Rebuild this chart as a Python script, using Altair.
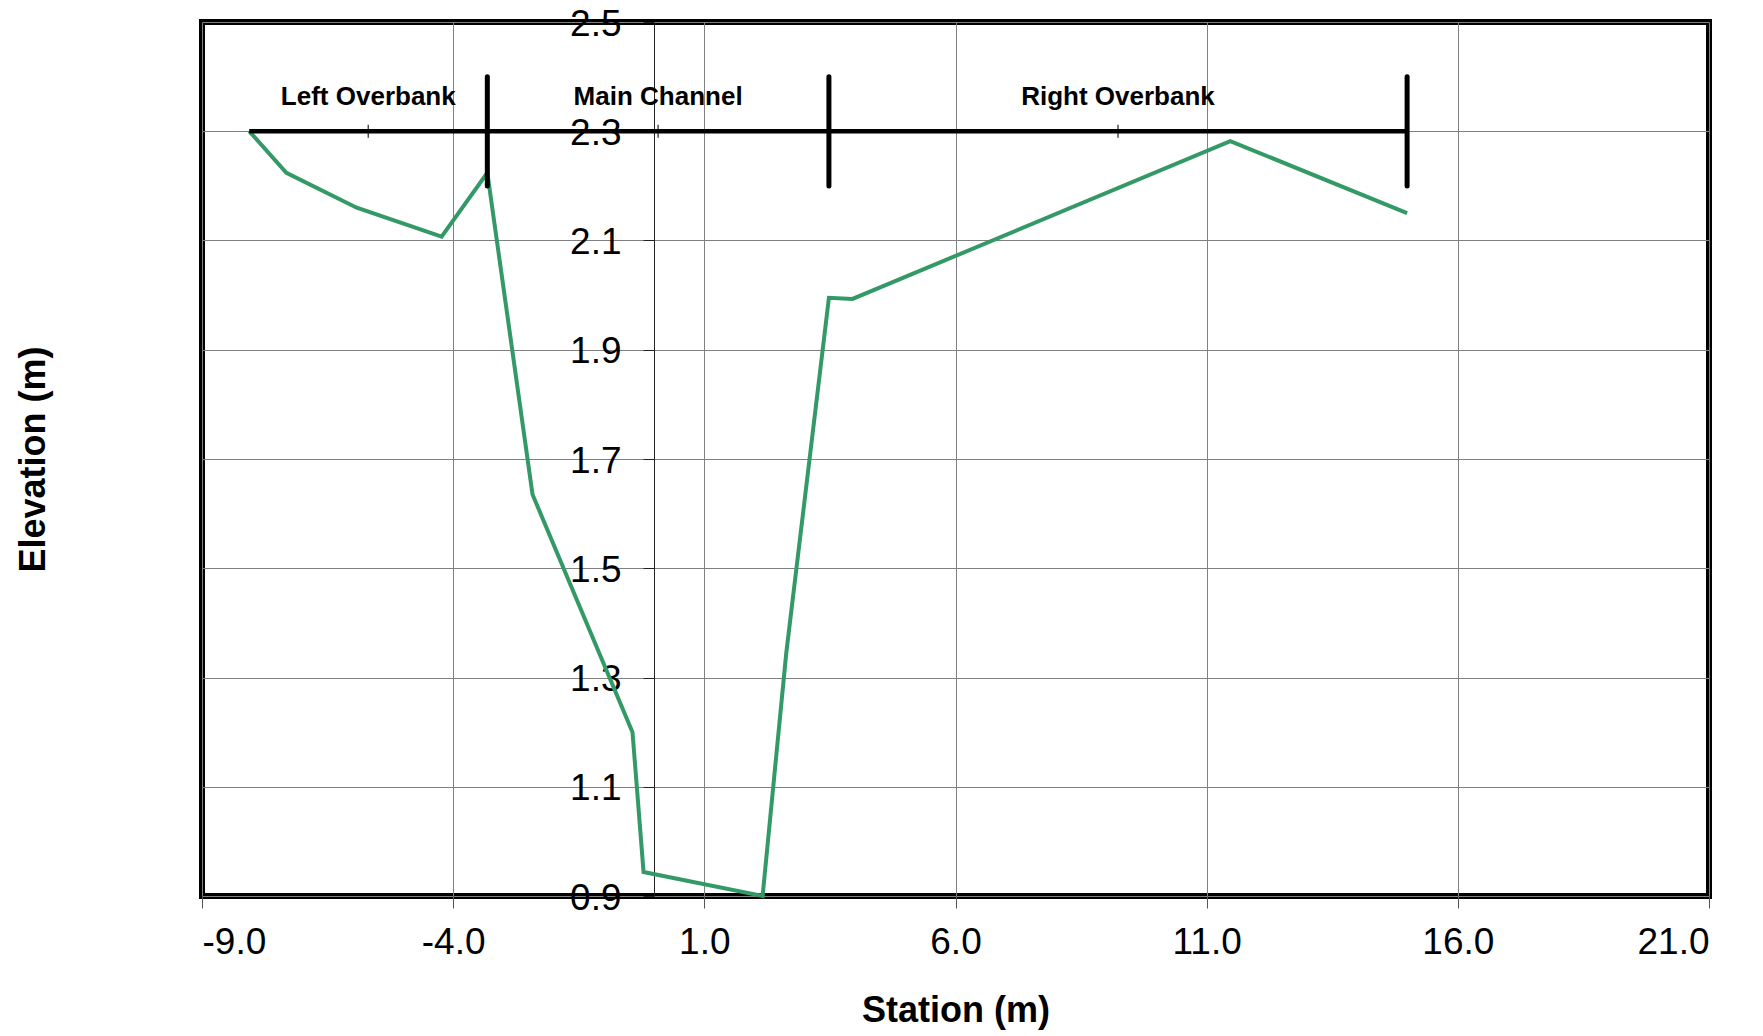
import altair as alt
import pandas as pd

# Ground profile (station, elevation)
station = [-8.06, -7.32, -5.92, -4.23, -3.32, -2.42, -0.43, -0.21, 2.16, 2.63, 3.48, 3.95, 11.47, 14.99]
elevation = [2.30, 2.224, 2.160, 2.107, 2.224, 1.635, 1.200, 0.944, 0.900, 1.344, 1.995, 1.993, 2.282, 2.150]

# Bank-station annotation
bank_start = -8.06
bank_stations = [-3.32, 3.48, 14.99]
bank_level = 2.30
bank_bar_low = 2.20
bank_bar_high = 2.40
label_level = 2.362
region_labels = ["Left Overbank", "Main Channel", "Right Overbank"]

x_ticks = [-9, -4, 1, 6, 11, 16, 21]
y_ticks = [0.9, 1.1, 1.3, 1.5, 1.7, 1.9, 2.1, 2.3, 2.5]

FONT = "Liberation Sans"

ground_df = pd.DataFrame({"station": station, "elevation": elevation, "idx": list(range(len(station)))})
edges = [bank_start] + bank_stations
regions_df = pd.DataFrame({
    "label": region_labels,
    "left": edges[:-1],
    "right": edges[1:],
})
regions_df["mid"] = (regions_df["left"] + regions_df["right"]) / 2
regions_df["level"] = bank_level
regions_df["label_y"] = label_level
bars_df = pd.DataFrame({"x": bank_stations, "lo": bank_bar_low, "hi": bank_bar_high})
line_df = pd.DataFrame({"x": [bank_start], "x2": [bank_stations[-1]], "y": [bank_level]})

xscale = alt.Scale(domain=[-9, 21], nice=False, zero=False)
yscale = alt.Scale(domain=[0.9, 2.5], nice=False, zero=False)

x_axis = alt.Axis(
    values=x_ticks, format=".1f", title="Station (m)",
    labelExpr="replace(datum.label, '\u2212', '-')",
    labelFont=FONT, labelFontSize=37, labelColor="black", labelBaseline="top",
    tickSize=12, tickColor="#555555", tickWidth=1, labelPadding=16,
    grid=True, gridColor="#808080", gridWidth=1, domain=False,
    titleFont=FONT, titleFontSize=36, titleFontWeight="bold", titleColor="black",
    titleY=125, titleBaseline="alphabetic",
)
y_axis = alt.Axis(
    values=y_ticks, format=".1f", title="Elevation (m)", offset=-452,
    labelFont=FONT, labelFontSize=37, labelColor="black",
    labelBaseline="alphabetic", labelOffset=13,
    tickSize=11, tickColor="#222222", tickWidth=1, labelPadding=22,
    grid=True, gridColor="#808080", gridWidth=1,
    domain=True, domainColor="#222222", domainWidth=1,
    titleFont=FONT, titleFontSize=36, titleFontWeight="bold", titleColor="black",
    titleX=-621, titleBaseline="middle",
)

ground = alt.Chart(ground_df).mark_line(color="#339966", strokeWidth=4).encode(
    x=alt.X("station:Q", scale=xscale, axis=x_axis),
    y=alt.Y("elevation:Q", scale=yscale, axis=y_axis),
    order="idx:Q",
)

bank_line = alt.Chart(line_df).mark_rule(color="black", strokeWidth=4.5).encode(
    x=alt.X("x:Q", scale=xscale), x2="x2:Q", y=alt.Y("y:Q", scale=yscale)
)

bars = alt.Chart(bars_df).mark_rule(color="black", strokeWidth=5, strokeCap="round").encode(
    x=alt.X("x:Q", scale=xscale), y=alt.Y("lo:Q", scale=yscale), y2="hi:Q"
)

mid_ticks = alt.Chart(regions_df).mark_tick(orient="vertical", color="black", size=13, thickness=1.5).encode(
    x=alt.X("mid:Q", scale=xscale), y=alt.Y("level:Q", scale=yscale)
)

labels = alt.Chart(regions_df).mark_text(
    font=FONT, fontSize=26, fontWeight="bold", color="black", baseline="middle", align="center"
).encode(
    x=alt.X("mid:Q", scale=xscale), y=alt.Y("label_y:Q", scale=yscale), text="label:N"
)

chart = alt.layer(ground, bank_line, bars, mid_ticks, labels).properties(
    width=1507, height=874,
    background="white",
    autosize=alt.AutoSizeParams(type="none"),
    padding={"left": 194, "top": 14, "right": 40, "bottom": 140},
).configure_view(stroke="black", strokeWidth=6)

chart.save("out.html", embed_options={"renderer": "svg", "actions": False})
